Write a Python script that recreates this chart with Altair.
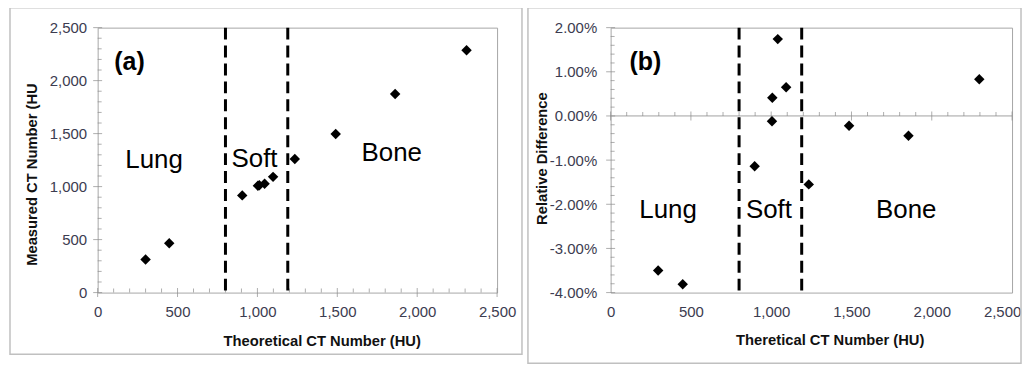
import altair as alt
import pandas as pd

# ---- data ----
theo_a = [300, 448, 905, 1003, 1012, 1045, 1098, 1234, 1490, 1862, 2309]
measured = [313, 466, 917, 1008, 1012, 1026, 1092, 1261, 1496, 1874, 2287]
theo_b = [296, 449, 897, 1005, 1007, 1041, 1093, 1234, 1485, 1855, 2296]
rel_diff = [-3.50, -3.81, -1.14, -0.12, 0.41, 1.74, 0.65, -1.55, -0.22, -0.45, 0.83]
boundaries = [800, 1190]

x_major = [0, 500, 1000, 1500, 2000, 2500]
x_minor = [v for v in range(0, 2501, 100) if v % 500]
ya_major = [0, 500, 1000, 1500, 2000, 2500]
ya_minor = [v for v in range(0, 2501, 100) if v % 500]
yb_major = [-4, -3, -2, -1, 0, 1, 2]
yb_minor = [round(-4 + 0.2 * i, 1) for i in range(31) if i % 5]

region_labels = ["Lung", "Soft", "Bone"]
region_x_a = [353, 982, 1841]
region_y_a = [1176, 1186, 1239]
region_x_b = [358, 986, 1841]
region_y_b = [-2.30, -2.30, -2.30]
panel_tag_a = ["(a)"]
panel_tag_pos_a = [104, 2100]
panel_tag_b = ["(b)"]
panel_tag_pos_b = [118, 1.03]

FONT = "Liberation Sans"
LABEL_COLOR = "#3c3c50"
TICK_COLOR = "#8c8c8c"


def panel(xs_vals, ys_vals, ydom, x_title, y_title, y_major, y_minor, y_fmt_expr,
          reg_x, reg_y, tag, tag_pos, frame, title_pos, ylabel_pad, zero_line, width, height,
          last_label_offset):
    xs = alt.Scale(domain=[0, 2500], nice=False, zero=False)
    ys = alt.Scale(domain=ydom, nice=False, zero=False)
    xaxis = alt.Axis(values=x_major, labelExpr="format(datum.value, ',')", domain=False, ticks=False,
                     grid=False, labelFlush=False, labelOverlap=False, labelPadding=12,
                     labelOffset={"condition": {"test": "datum.value >= 2500", "value": last_label_offset},
                                  "value": 0},
                     labelFont=FONT, labelFontSize=15, labelColor=LABEL_COLOR,
                     title=x_title, titleFont=FONT, titleFontSize=14.8, titleFontWeight="bold",
                     titleColor="#111111", titleX=title_pos[0], titleY=title_pos[1],
                     titleBaseline="middle", titleAlign="center")
    yaxis = alt.Axis(values=y_major, labelExpr=y_fmt_expr, domain=False, ticks=False, grid=False,
                     labelFlush=False, labelOverlap=False, labelPadding=ylabel_pad,
                     labelFont=FONT, labelFontSize=15, labelColor=LABEL_COLOR,
                     title=y_title, titleFont=FONT, titleFontSize=14.8, titleFontWeight="bold",
                     titleColor="#111111", titleX=title_pos[2], titleY=title_pos[3],
                     titleBaseline="middle", titleAlign="center", titleAngle=270)

    def X(f):
        return alt.X(f, type="quantitative", scale=xs, axis=xaxis, title=x_title)

    def Y(f):
        return alt.Y(f, type="quantitative", scale=ys, axis=yaxis, title=y_title)

    one = pd.DataFrame({"x": [0], "y": [ydom[0]]})
    frame_layer = alt.Chart(one).mark_rect(fill=None, stroke="#c0c0c0", strokeWidth=1.5).encode(
        x=alt.value(frame[0]), x2=alt.value(frame[1]), y=alt.value(frame[2]), y2=alt.value(frame[3]))

    layers = [frame_layer]

    if zero_line:
        zdf = pd.DataFrame({"y": [0]})
        layers.append(alt.Chart(zdf).mark_rule(color="#a0a0a0", strokeWidth=1).encode(y=Y("y")))

    xbase = 0 if zero_line else ydom[0]
    xmaj = pd.DataFrame({"x": x_major, "y": [xbase] * len(x_major)})
    xmin = pd.DataFrame({"x": x_minor, "y": [xbase] * len(x_minor)})
    ymaj = pd.DataFrame({"x": [0] * len(y_major), "y": y_major})
    ymin = pd.DataFrame({"x": [0] * len(y_minor), "y": y_minor})
    layers.append(alt.Chart(xmaj).mark_tick(orient="vertical", size=9, thickness=1, color=TICK_COLOR)
                  .encode(x=X("x"), y=Y("y")))
    layers.append(alt.Chart(xmin).mark_tick(orient="vertical", size=4, thickness=1, color=TICK_COLOR, yOffset=-2)
                  .encode(x=X("x"), y=Y("y")))
    layers.append(alt.Chart(ymaj).mark_tick(orient="horizontal", size=9, thickness=1, color=TICK_COLOR)
                  .encode(x=X("x"), y=Y("y")))
    layers.append(alt.Chart(ymin).mark_tick(orient="horizontal", size=4, thickness=1, color=TICK_COLOR, xOffset=2)
                  .encode(x=X("x"), y=Y("y")))

    bdf = pd.DataFrame({"x": boundaries})
    layers.append(alt.Chart(bdf).mark_rule(color="black", strokeWidth=3, strokeDash=[12, 6])
                  .encode(x=X("x")))

    pdf = pd.DataFrame({"x": xs_vals, "y": ys_vals})
    layers.append(alt.Chart(pdf).mark_point(shape="diamond", filled=True, color="black", size=110, opacity=1)
                  .encode(x=X("x"), y=Y("y")))

    rdf = pd.DataFrame({"x": reg_x, "y": reg_y, "t": region_labels})
    layers.append(alt.Chart(rdf).mark_text(font=FONT, fontSize=26, align="center", baseline="alphabetic",
                                           color="black")
                  .encode(x=X("x"), y=Y("y"), text="t:N"))

    tdf = pd.DataFrame({"x": [tag_pos[0]], "y": [tag_pos[1]], "t": tag})
    layers.append(alt.Chart(tdf).mark_text(font=FONT, fontSize=25, fontWeight="bold", align="left",
                                           baseline="alphabetic", color="black")
                  .encode(x=X("x"), y=Y("y"), text="t:N"))

    return alt.layer(*layers).properties(width=width, height=height)


fmt_a = "format(datum.value, ',')"
fmt_b = "(datum.value < 0 ? '-' : '') + format(abs(datum.value), '.2f') + '%'"

left = panel(theo_a, measured, [0, 2500], "Theoretical CT Number (HU)", "Measured CT Number (HU",
             ya_major, ya_minor, fmt_a, region_x_a, region_y_a, panel_tag_a, panel_tag_pos_a,
             frame=[-88, 426, -20, 328], title_pos=[225, 49, -65, 147], ylabel_pad=11,
             zero_line=False, width=401, height=266, last_label_offset=0)

right = panel(theo_b, rel_diff, [-4, 2], "Theretical CT Number (HU)", "Relative Difference",
              yb_major, yb_minor, fmt_b, region_x_b, region_y_b, panel_tag_b, panel_tag_pos_b,
              frame=[-83, 412, -20, 337], title_pos=[220, 48, -68, 131], ylabel_pad=14,
              zero_line=True, width=403, height=266, last_label_offset=-10)

chart = alt.hconcat(left, right, spacing=2).properties(
    padding={"left": 0, "top": -3, "right": 0, "bottom": 0},
    background="white",
).configure_view(stroke="#a6a6a6", strokeWidth=1)

chart.save("out.html", embed_options={"renderer": "svg", "actions": False})
